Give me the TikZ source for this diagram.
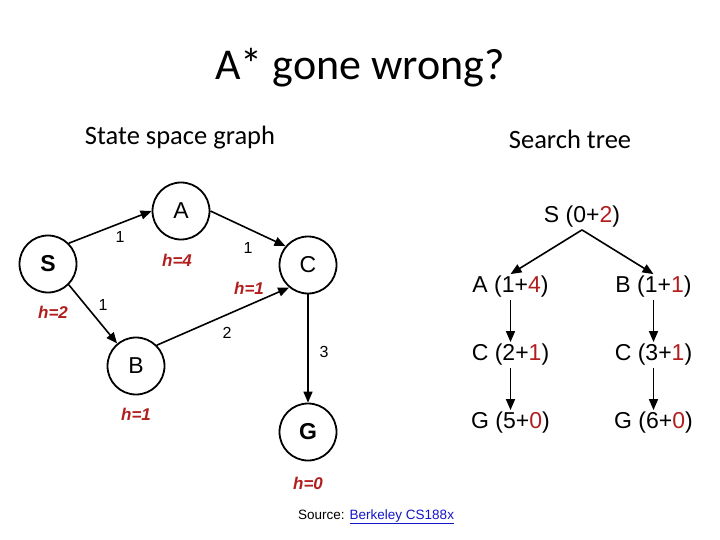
\documentclass[tikz,border=0pt]{standalone}
\usepackage{fontspec}
\setmainfont{Liberation Sans}
\newfontfamily\slidefont{Carlito}
\usetikzlibrary{arrows.meta, positioning}
\definecolor{hred}{RGB}{178,30,30}
\definecolor{linkblue}{RGB}{20,20,200}
\tikzset{
    statenode/.style={circle, draw=black, line width=1.8pt, minimum size=57pt, inner sep=0pt, font=\fontsize{23}{26}\selectfont},
    hlabel/.style={text=hred, font=\fontsize{17}{19}\selectfont\bfseries\itshape},
    costlabel/.style={font=\fontsize{16}{18}\selectfont},
    grapharrow/.style={-{Triangle[length=11pt,width=9pt]}, line width=1.6pt},
    treenode/.style={font=\fontsize{23}{26}\selectfont, inner sep=2pt},
    headline/.style={font=\slidefont\fontsize{26.5}{30}\selectfont}
}

\begin{document}
\begin{tikzpicture}[x=1pt, y=-1pt,
    level 1/.style={sibling distance=143pt, level distance=70pt},
    level 2/.style={level distance=68pt},
    edge from parent/.style={draw, grapharrow},
    edge from parent path={(\tikzparentnode.south) -- (\tikzchildnode.north)}
]
\useasboundingbox (0,0) rectangle (720,540);

% titles
\node[font=\slidefont\fontsize{44}{48}\selectfont] (title) at (360,68) {A* gone wrong?};
\node[headline] (graphhead) at (180,138) {State space graph};
\node[headline] (treehead) at (570,139) {Search tree};

% state space graph
\node[statenode] (S) at (48,264) {\textbf{S}};
\node[statenode] (A) at (181,211) {A};
\node[statenode] (C) at (308,265) {C};
\node[statenode] (B) at (136,366) {B};
\node[statenode] (G) at (308,432) {\textbf{G}};

\draw[grapharrow] (S.45) -- (A.180);
\draw[grapharrow] (A.0) -- (C.140);
\draw[grapharrow] (S.-45) -- (B.130);
\draw[grapharrow] (B.45) -- (C.230);
\draw[grapharrow] (C.south) -- (G.north);

\node[costlabel] (cSA) at (120,237) {1};
\node[costlabel] (cAC) at (248,248) {1};
\node[costlabel] (cSB) at (103,305) {1};
\node[costlabel] (cBC) at (227,333) {2};
\node[costlabel] (cCG) at (324,352) {3};

\node[hlabel] (hS) at (53,312) {h=2};
\node[hlabel] (hA) at (177,260) {h=4};
\node[hlabel] (hC) at (249,288) {h=1};
\node[hlabel] (hB) at (136,414) {h=1};
\node[hlabel] (hG) at (308,483) {h=0};

% search tree
\node[treenode] (root) at (582,217) {S (0+\textcolor{hred}{2})}
    child { node[treenode] (tA) {A (1+\textcolor{hred}{4})}
        child { node[treenode] (tAC) {C (2+\textcolor{hred}{1})}
            child { node[treenode] (tACG) {G (5+\textcolor{hred}{0})} }
        }
    }
    child { node[treenode] (tB) {B (1+\textcolor{hred}{1})}
        child { node[treenode] (tBC) {C (3+\textcolor{hred}{1})}
            child { node[treenode] (tBCG) {G (6+\textcolor{hred}{0})} }
        }
    };

% source
\node[font=\fontsize{13.5}{15}\selectfont, anchor=west, inner sep=0pt] (source) at (298,517) {Source: \textcolor{linkblue}{\underline{Berkeley CS188x}}};

\end{tikzpicture}
\end{document}
